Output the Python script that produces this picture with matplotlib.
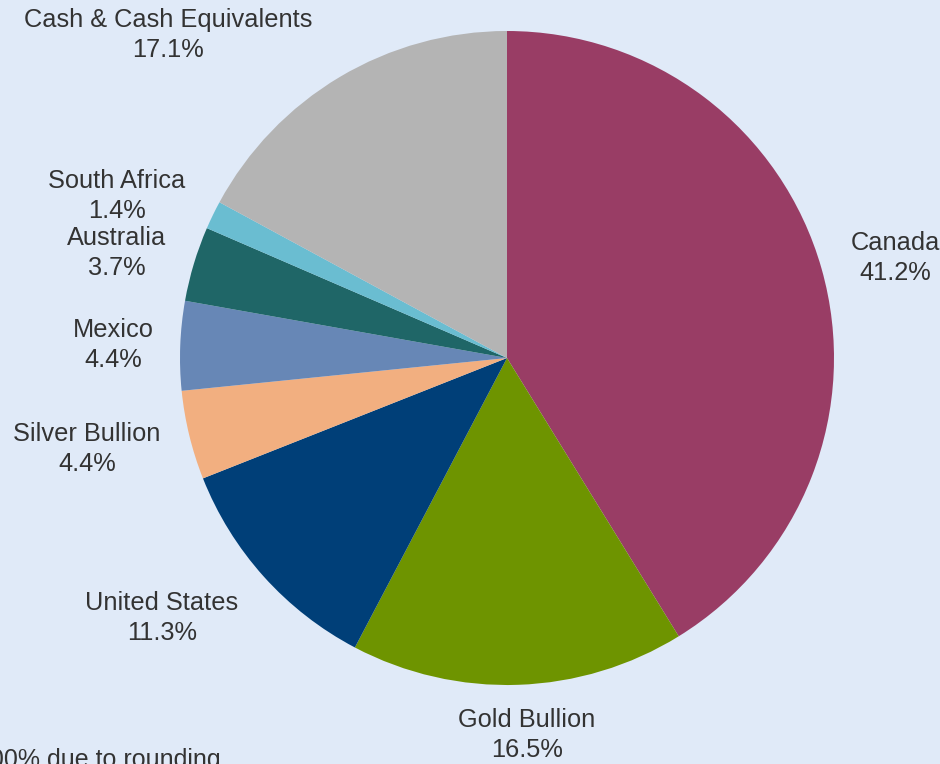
import matplotlib
matplotlib.use("Agg")
import matplotlib.pyplot as plt
import numpy as np

categories = ["Canada", "Gold Bullion", "United States", "Silver Bullion",
              "Mexico", "Australia", "South Africa", "Cash & Cash Equivalents"]
values = [41.2, 16.5, 11.3, 4.4, 4.4, 3.7, 1.4, 17.1]
colors = ["#993D65", "#6E9400", "#003F78", "#F2AF80",
          "#6787B6", "#1F6667", "#6ABDD1", "#B4B4B4"]
footnote = "Totals may not equal 100% due to rounding"

# label positions in units of pie radius (layout only)
label_pos = [(1.187, 0.306), (0.061, -1.153), (-1.055, -0.795), (-1.284, -0.278),
             (-1.205, 0.040), (-1.193, 0.321), (-1.193, 0.495), (-1.037, 0.988)]

bg = "#E0EAF8"
W, H = 940, 764
cx, cy, R = 507, 358, 327

fig = plt.figure(figsize=(W / 100, H / 100), dpi=100, facecolor=bg)
ax = fig.add_axes([0, 0, 1, 1])
ax.set_facecolor(bg)
ax.pie(values, colors=colors, startangle=90, counterclock=False,
       radius=1.0, wedgeprops=dict(linewidth=0))
ax.set_xlim(-cx / R, (W - cx) / R)
ax.set_ylim((cy - H) / R, cy / R)
ax.set_aspect("equal")
ax.axis("off")

for name, v, (lx, ly) in zip(categories, values, label_pos):
    ax.text(lx, ly, f"{name}\n{v:.1f}%", ha="center", va="center",
            fontsize=18.3, family="Liberation Sans", color="#333333",
            linespacing=1.32)

fig.text(221 / W, 1 - 767 / H, footnote,
         ha="right", va="baseline", fontsize=18, family="Liberation Sans",
         color="#333333")

fig.savefig("out.png", dpi=100, facecolor=bg)
